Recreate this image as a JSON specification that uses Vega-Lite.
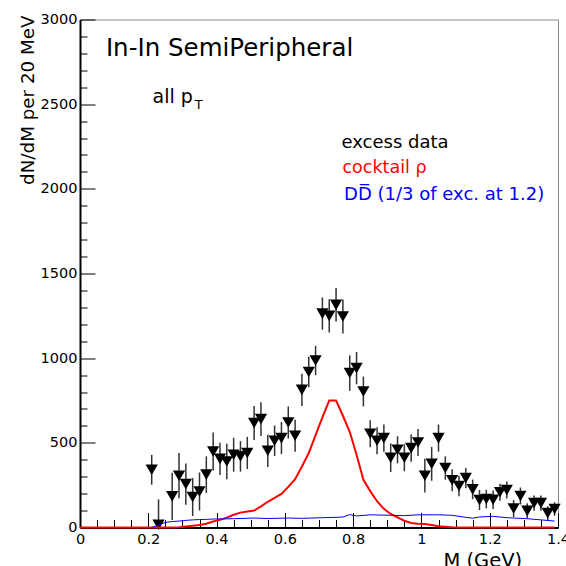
{
  "$schema": "https://vega.github.io/schema/vega-lite/v6.json",
  "width": 478,
  "height": 508,
  "autosize": {"type": "none"},
  "padding": {"left": 80, "top": 19.5, "right": 8, "bottom": 38.5},
  "background": "white",
  "config": {
    "view": {"stroke": "#888888", "strokeWidth": 1},
    "font": "DejaVu Sans"
  },
  "datasets": {
    "excess": [
      {"M": 0.21, "v": 341, "lo": 253, "hi": 429},
      {"M": 0.23, "v": 16, "lo": -134, "hi": 166},
      {"M": 0.27, "v": 184, "lo": 44, "hi": 324},
      {"M": 0.29, "v": 306, "lo": 172, "hi": 440},
      {"M": 0.31, "v": 256, "lo": 134, "hi": 378},
      {"M": 0.33, "v": 180, "lo": 68, "hi": 292},
      {"M": 0.35, "v": 213, "lo": 101, "hi": 325},
      {"M": 0.37, "v": 312, "lo": 204, "hi": 420},
      {"M": 0.39, "v": 449, "lo": 337, "hi": 561},
      {"M": 0.41, "v": 405, "lo": 310, "hi": 500},
      {"M": 0.43, "v": 390, "lo": 285, "hi": 495},
      {"M": 0.45, "v": 430, "lo": 330, "hi": 530},
      {"M": 0.47, "v": 420, "lo": 330, "hi": 510},
      {"M": 0.49, "v": 440, "lo": 345, "hi": 535},
      {"M": 0.51, "v": 617, "lo": 517, "hi": 717},
      {"M": 0.53, "v": 640, "lo": 540, "hi": 740},
      {"M": 0.55, "v": 453, "lo": 358, "hi": 548},
      {"M": 0.57, "v": 512, "lo": 422, "hi": 602},
      {"M": 0.59, "v": 528, "lo": 433, "hi": 623},
      {"M": 0.61, "v": 620, "lo": 525, "hi": 715},
      {"M": 0.63, "v": 542, "lo": 447, "hi": 637},
      {"M": 0.65, "v": 813, "lo": 718, "hi": 908},
      {"M": 0.67, "v": 918, "lo": 828, "hi": 1008},
      {"M": 0.69, "v": 986, "lo": 899, "hi": 1073},
      {"M": 0.71, "v": 1263, "lo": 1168, "hi": 1358},
      {"M": 0.73, "v": 1250, "lo": 1152, "hi": 1348},
      {"M": 0.75, "v": 1315, "lo": 1216, "hi": 1414},
      {"M": 0.77, "v": 1246, "lo": 1146, "hi": 1346},
      {"M": 0.79, "v": 912, "lo": 807, "hi": 1017},
      {"M": 0.81, "v": 941, "lo": 846, "hi": 1036},
      {"M": 0.83, "v": 803, "lo": 715, "hi": 891},
      {"M": 0.85, "v": 554, "lo": 474, "hi": 634},
      {"M": 0.87, "v": 512, "lo": 432, "hi": 592},
      {"M": 0.89, "v": 528, "lo": 448, "hi": 608},
      {"M": 0.91, "v": 412, "lo": 328, "hi": 496},
      {"M": 0.93, "v": 459, "lo": 379, "hi": 539},
      {"M": 0.95, "v": 412, "lo": 332, "hi": 492},
      {"M": 0.97, "v": 469, "lo": 389, "hi": 549},
      {"M": 0.99, "v": 502, "lo": 422, "hi": 582},
      {"M": 1.01, "v": 306, "lo": 206, "hi": 406},
      {"M": 1.03, "v": 376, "lo": 276, "hi": 476},
      {"M": 1.05, "v": 528, "lo": 448, "hi": 608},
      {"M": 1.07, "v": 351, "lo": 282, "hi": 420},
      {"M": 1.09, "v": 279, "lo": 214, "hi": 344},
      {"M": 1.11, "v": 245, "lo": 184, "hi": 306},
      {"M": 1.13, "v": 292, "lo": 232, "hi": 352},
      {"M": 1.15, "v": 225, "lo": 167, "hi": 283},
      {"M": 1.17, "v": 162, "lo": 103, "hi": 221},
      {"M": 1.19, "v": 168, "lo": 113, "hi": 223},
      {"M": 1.21, "v": 164, "lo": 109, "hi": 219},
      {"M": 1.23, "v": 208, "lo": 158, "hi": 258},
      {"M": 1.25, "v": 221, "lo": 171, "hi": 271},
      {"M": 1.27, "v": 112, "lo": 62, "hi": 162},
      {"M": 1.29, "v": 186, "lo": 136, "hi": 236},
      {"M": 1.31, "v": 98, "lo": 53, "hi": 143},
      {"M": 1.33, "v": 144, "lo": 99, "hi": 189},
      {"M": 1.35, "v": 144, "lo": 99, "hi": 189},
      {"M": 1.37, "v": 85, "lo": 45, "hi": 125},
      {"M": 1.39, "v": 109, "lo": 69, "hi": 149}
    ],
    "rho": [
      {"M": 0.0, "v": 0}, {"M": 0.27, "v": 0}, {"M": 0.29, "v": 2},
      {"M": 0.31, "v": 6}, {"M": 0.33, "v": 10}, {"M": 0.35, "v": 15},
      {"M": 0.37, "v": 22}, {"M": 0.39, "v": 35}, {"M": 0.41, "v": 45},
      {"M": 0.43, "v": 58}, {"M": 0.45, "v": 75}, {"M": 0.47, "v": 88},
      {"M": 0.49, "v": 95}, {"M": 0.51, "v": 100}, {"M": 0.53, "v": 125},
      {"M": 0.55, "v": 152}, {"M": 0.57, "v": 175}, {"M": 0.59, "v": 198},
      {"M": 0.61, "v": 240}, {"M": 0.63, "v": 285}, {"M": 0.65, "v": 360},
      {"M": 0.67, "v": 440}, {"M": 0.69, "v": 545}, {"M": 0.71, "v": 650},
      {"M": 0.73, "v": 750}, {"M": 0.75, "v": 750}, {"M": 0.77, "v": 660},
      {"M": 0.79, "v": 565}, {"M": 0.81, "v": 430}, {"M": 0.83, "v": 282},
      {"M": 0.85, "v": 215}, {"M": 0.87, "v": 155}, {"M": 0.89, "v": 110},
      {"M": 0.91, "v": 80}, {"M": 0.93, "v": 60}, {"M": 0.95, "v": 40},
      {"M": 0.97, "v": 27}, {"M": 0.99, "v": 22}, {"M": 1.01, "v": 20},
      {"M": 1.03, "v": 15}, {"M": 1.05, "v": 8}, {"M": 1.07, "v": 5},
      {"M": 1.09, "v": 2}, {"M": 1.11, "v": 0}, {"M": 1.39, "v": 0}
    ],
    "dd": [
      {"M": 0.21, "v": 0}, {"M": 0.23, "v": 15}, {"M": 0.25, "v": 30},
      {"M": 0.27, "v": 35}, {"M": 0.29, "v": 38}, {"M": 0.31, "v": 42},
      {"M": 0.33, "v": 45}, {"M": 0.35, "v": 47}, {"M": 0.37, "v": 48},
      {"M": 0.39, "v": 50}, {"M": 0.45, "v": 52}, {"M": 0.51, "v": 56},
      {"M": 0.55, "v": 53}, {"M": 0.61, "v": 56}, {"M": 0.65, "v": 54},
      {"M": 0.71, "v": 58}, {"M": 0.75, "v": 60}, {"M": 0.77, "v": 62},
      {"M": 0.79, "v": 76}, {"M": 0.81, "v": 68}, {"M": 0.85, "v": 75},
      {"M": 0.91, "v": 72}, {"M": 0.95, "v": 70}, {"M": 0.99, "v": 75},
      {"M": 1.05, "v": 75}, {"M": 1.09, "v": 72}, {"M": 1.13, "v": 60},
      {"M": 1.15, "v": 55}, {"M": 1.17, "v": 62}, {"M": 1.21, "v": 66},
      {"M": 1.25, "v": 58}, {"M": 1.31, "v": 52}, {"M": 1.35, "v": 45},
      {"M": 1.39, "v": 38}
    ]
  },
  "layer": [
    {
      "data": {"name": "excess"},
      "mark": {"type": "rule", "color": "#333333", "strokeWidth": 1.5, "clip": true},
      "encoding": {
        "x": {
          "field": "M", "type": "quantitative",
          "scale": {"domain": [0, 1.4], "nice": false, "zero": false},
          "axis": {
            "orient": "bottom",
            "values": [0, 0.2, 0.4, 0.6, 0.8, 1, 1.2, 1.4],
            "format": "~g",
            "grid": false,
            "domainColor": "black", "domainWidth": 2,
            "tickColor": "black", "tickWidth": 1, "tickSize": -15,
            "labelFont": "DejaVu Sans", "labelFontSize": 14.5, "labelColor": "black",
            "labelPadding": 20, "labelFlush": false, "labelOverlap": false,
            "title": "M (GeV)",
            "titleFont": "DejaVu Sans", "titleFontSize": 19.5, "titleFontWeight": "normal",
            "titleColor": "black", "titleAlign": "right", "titleBaseline": "alphabetic",
            "titleX": 441.6, "titleY": 39
          }
        },
        "y": {
          "field": "lo", "type": "quantitative",
          "scale": {"domain": [0, 3000], "nice": false},
          "axis": {
            "orient": "left",
            "values": [0, 500, 1000, 1500, 2000, 2500, 3000],
            "format": "d",
            "grid": false,
            "domainColor": "black", "domainWidth": 2,
            "tickColor": "black", "tickWidth": 1, "tickSize": -15,
            "labelFont": "DejaVu Sans", "labelFontSize": 14.5, "labelColor": "black",
            "labelPadding": 18, "labelFlush": false, "labelOverlap": false,
            "title": "dN/dM per 20 MeV",
            "titleFont": "DejaVu Sans", "titleFontSize": 18.3, "titleFontWeight": "normal",
            "titleColor": "black", "titleAngle": 270, "titleAlign": "right",
            "titleBaseline": "alphabetic", "titleX": -46.7, "titleY": -4.5
          }
        },
        "y2": {"field": "hi"}
      }
    },
    {
      "data": {"name": "excess"},
      "mark": {"type": "point", "shape": "triangle-down", "filled": true, "color": "black", "opacity": 1, "size": 150},
      "encoding": {
        "x": {
          "field": "M", "type": "quantitative",
          "axis": {
            "orient": "bottom",
            "values": [0.05, 0.1, 0.15, 0.25, 0.3, 0.35, 0.45, 0.5, 0.55, 0.65, 0.7, 0.75, 0.85, 0.9, 0.95, 1.05, 1.1, 1.15, 1.25, 1.3, 1.35],
            "labels": false, "domain": false, "grid": false,
            "tickColor": "black", "tickWidth": 1, "tickSize": -8, "title": null
          }
        },
        "y": {
          "field": "v", "type": "quantitative",
          "axis": {
            "orient": "left",
            "values": [100, 200, 300, 400, 600, 700, 800, 900, 1100, 1200, 1300, 1400, 1600, 1700, 1800, 1900, 2100, 2200, 2300, 2400, 2600, 2700, 2800, 2900],
            "labels": false, "domain": false, "grid": false,
            "tickColor": "black", "tickWidth": 1, "tickSize": -7, "title": null
          }
        }
      }
    },
    {
      "data": {"name": "rho"},
      "mark": {"type": "line", "color": "#ff0000", "strokeWidth": 2},
      "encoding": {
        "x": {"field": "M", "type": "quantitative", "axis": null},
        "y": {"field": "v", "type": "quantitative", "axis": null}
      }
    },
    {
      "data": {"name": "dd"},
      "mark": {"type": "line", "color": "#0000ff", "strokeWidth": 1},
      "encoding": {
        "x": {"field": "M", "type": "quantitative", "axis": null},
        "y": {"field": "v", "type": "quantitative", "axis": null}
      }
    },
    {
      "data": {"values": [{"label": "In-In SemiPeripheral"}]},
      "mark": {"type": "text", "align": "left", "baseline": "alphabetic", "font": "DejaVu Sans", "fontSize": 24.5, "color": "black"},
      "encoding": {
        "x": {"datum": 0.0758, "type": "quantitative", "axis": null},
        "y": {"datum": 2785, "type": "quantitative", "axis": null},
        "text": {"field": "label"}
      }
    },
    {
      "data": {"values": [{"label": "all p"}]},
      "mark": {"type": "text", "align": "left", "baseline": "alphabetic", "font": "DejaVu Sans", "fontSize": 19, "color": "black"},
      "encoding": {
        "x": {"datum": 0.2125, "type": "quantitative", "axis": null},
        "y": {"datum": 2505, "type": "quantitative", "axis": null},
        "text": {"field": "label"}
      }
    },
    {
      "data": {"values": [{"label": "T"}]},
      "mark": {"type": "text", "align": "left", "baseline": "alphabetic", "font": "DejaVu Sans", "fontSize": 13, "color": "black"},
      "encoding": {
        "x": {"datum": 0.336, "type": "quantitative", "axis": null},
        "y": {"datum": 2474, "type": "quantitative", "axis": null},
        "text": {"field": "label"}
      }
    },
    {
      "data": {"values": [{"label": "excess data"}]},
      "mark": {"type": "text", "align": "left", "baseline": "alphabetic", "font": "DejaVu Sans", "fontSize": 18, "color": "black"},
      "encoding": {
        "x": {"datum": 0.7658, "type": "quantitative", "axis": null},
        "y": {"datum": 2243, "type": "quantitative", "axis": null},
        "text": {"field": "label"}
      }
    },
    {
      "data": {"values": [{"label": "cocktail ρ"}]},
      "mark": {"type": "text", "align": "left", "baseline": "alphabetic", "font": "DejaVu Sans", "fontSize": 17.5, "color": "#ff0000"},
      "encoding": {
        "x": {"datum": 0.7687, "type": "quantitative", "axis": null},
        "y": {"datum": 2092, "type": "quantitative", "axis": null},
        "text": {"field": "label"}
      }
    },
    {
      "data": {"values": [{"label": "DD̅ (1/3 of exc. at 1.2)"}]},
      "mark": {"type": "text", "align": "left", "baseline": "alphabetic", "font": "DejaVu Sans", "fontSize": 18, "color": "#0000ff"},
      "encoding": {
        "x": {"datum": 0.7734, "type": "quantitative", "axis": null},
        "y": {"datum": 1935, "type": "quantitative", "axis": null},
        "text": {"field": "label"}
      }
    }
  ],
  "resolve": {"axis": {"x": "independent", "y": "independent"}}
}
